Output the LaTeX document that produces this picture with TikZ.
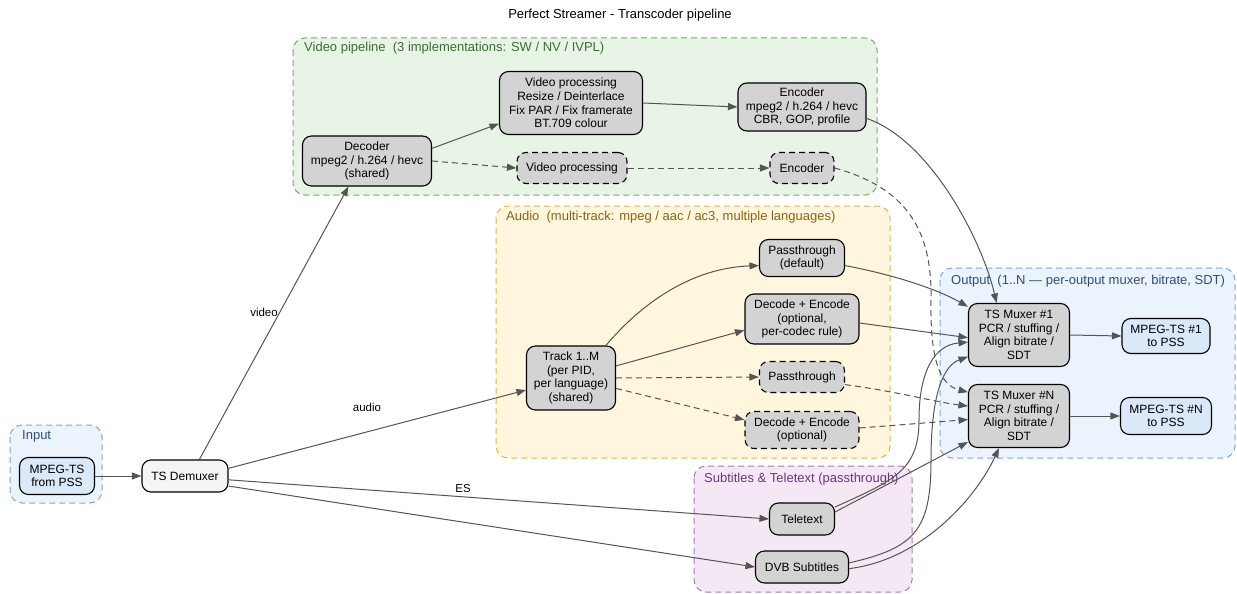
\documentclass[tikz,border=0pt]{standalone}
\usepackage{fontspec}
\setmainfont{Liberation Sans}
\usetikzlibrary{arrows.meta}

\definecolor{edgegrey}{HTML}{555555}
\definecolor{nodegrey}{HTML}{D3D3D3}
\definecolor{demuxfill}{HTML}{F5F5F5}
\definecolor{tsfill}{HTML}{DAE8F8}
\definecolor{bluefill}{HTML}{EBF3FC}
\definecolor{blueline}{HTML}{7EA8D8}
\definecolor{bluetext}{HTML}{2E4E7E}
\definecolor{greenfill}{HTML}{E8F4E6}
\definecolor{greenline}{HTML}{72B068}
\definecolor{greentext}{HTML}{3D6B35}
\definecolor{yellowfill}{HTML}{FFF6DE}
\definecolor{yellowline}{HTML}{E0B848}
\definecolor{yellowtext}{HTML}{8A6410}
\definecolor{purplefill}{HTML}{F3E8F4}
\definecolor{purpleline}{HTML}{A87DB8}
\definecolor{purpletext}{HTML}{6C3483}

\begin{document}
\begin{tikzpicture}[x=1pt, y=-1pt, >={Triangle[length=9.5pt,width=7pt]},
    box/.style={draw=black, line width=1.1pt, rounded corners=9pt, fill=nodegrey,
      align=center, inner sep=2pt, font=\fontsize{12}{13.7}\selectfont},
    optbox/.style={box, dash pattern=on 6pt off 4pt},
    link/.style={->, draw=edgegrey, line width=1pt},
    optlink/.style={link, dash pattern=on 6pt off 4pt},
    cluster/.style={line width=1pt, rounded corners=12pt, dash pattern=on 6pt off 4pt},
    clabel/.style={anchor=west, inner sep=0pt, font=\fontsize{13}{15}\selectfont},
    elabel/.style={inner sep=0pt, font=\fontsize{11.5}{13}\selectfont}]
    \useasboundingbox (0,0) rectangle (1237,594);

    \node[elabel, font=\fontsize{13}{15}\selectfont] (title) at (620,15) {Perfect Streamer - Transcoder pipeline};

    \draw[cluster, fill=bluefill, draw=blueline] (10,425) rectangle (102,503);
    \draw[cluster, fill=greenfill, draw=greenline] (293,38) rectangle (877,195);
    \draw[cluster, fill=yellowfill, draw=yellowline] (496,206) rectangle (890,458);
    \draw[cluster, fill=bluefill, draw=blueline] (940,268) rectangle (1235,458);
    \draw[cluster, fill=purplefill, draw=purpleline] (694,466) rectangle (912,592);

    \node[clabel, text=bluetext] (lin) at (22,436) {Input};
    \node[clabel, text=greentext] (lvid) at (304,48) {Video pipeline\ \ (3 implementations: SW / NV / IVPL)};
    \node[clabel, text=yellowtext] (laud) at (506,217) {Audio\ \ (multi-track: mpeg / aac / ac3, multiple languages)};
    \node[clabel, text=bluetext] (lout) at (951,281) {Output\ \ (1..N — per-output muxer, bitrate, SDT)};
    \node[clabel, text=purpletext] (lsub) at (704,479) {Subtitles \& Teletext (passthrough)};

    \node[box, fill=tsfill, minimum width=75, minimum height=37] (src) at (57,476) {MPEG-TS\\from PSS};
    \node[box, fill=demuxfill, minimum width=86, minimum height=32] (demux) at (185,476) {TS Demuxer};

    \node[box, minimum width=129, minimum height=50] (dec) at (367,161) {Decoder\\mpeg2 / h.264 / hevc\\(shared)};
    \node[box, minimum width=143, minimum height=63] (vproc) at (571,103) {Video processing\\Resize / Deinterlace\\Fix PAR / Fix framerate\\BT.709 colour};
    \node[box, minimum width=128, minimum height=48] (venc) at (802,107) {Encoder\\mpeg2 / h.264 / hevc\\CBR, GOP, profile};
    \node[optbox, minimum width=110, minimum height=31] (vproc2) at (572,168) {Video processing};
    \node[optbox, minimum width=64, minimum height=31] (venc2) at (802,168) {Encoder};

    \node[box, minimum width=89, minimum height=64] (track) at (571,378) {Track 1..M\\(per PID,\\per language)\\(shared)};
    \node[box, minimum width=85, minimum height=37] (apass) at (802,258) {Passthrough\\(default)};
    \node[box, minimum width=114, minimum height=50] (aenc) at (802,319) {Decode + Encode\\(optional,\\per-codec rule)};
    \node[optbox, minimum width=85, minimum height=31] (apass2) at (802,377) {Passthrough};
    \node[optbox, minimum width=114, minimum height=37] (aenc2) at (802,430) {Decode + Encode\\(optional)};

    \node[box, minimum width=65, minimum height=32] (ttx) at (802,519) {Teletext};
    \node[box, minimum width=93, minimum height=32] (dvb) at (802,567) {DVB Subtitles};

    \node[box, minimum width=101, minimum height=63] (mux1) at (1019,335) {TS Muxer \#1\\PCR / stuffing /\\Align bitrate /\\SDT};
    \node[box, minimum width=101, minimum height=63] (muxN) at (1019,416) {TS Muxer \#N\\PCR / stuffing /\\Align bitrate /\\SDT};
    \node[box, fill=tsfill, minimum width=88, minimum height=35] (out1) at (1166,336) {MPEG-TS \#1\\to PSS};
    \node[box, fill=tsfill, minimum width=91, minimum height=37] (outN) at (1166,416) {MPEG-TS \#N\\to PSS};

    \node[elabel] (lvideo) at (264,312) {video};
    \node[elabel] (laudio) at (367,407) {audio};
    \node[elabel] (les) at (463,489) {ES};

    \draw[link] (src) -- (demux);
    \draw[link] (demux.49) -- (dec.234);
    \draw[link] (demux.10) -- (track.195);
    \draw[link] (demux.-5) -- (ttx.west);
    \draw[link] (demux.-13) -- (dvb.west);

    \draw[link] (dec.11) -- (vproc.196);
    \draw[link] (vproc.east) -- (venc.west);
    \draw[optlink] (dec.east) -- (vproc2.west);
    \draw[optlink] (vproc2.east) -- (venc2.west);
    \draw[link] (venc.-10) .. controls (930,140) and (982,240) .. (mux1.125);
    \draw[optlink] (venc2.east) .. controls (915,190) and (932,240) .. (931,300)
        .. controls (930,360) and (940,385) .. (muxN.155);

    \draw[link] (track.43) .. controls (640,305) and (690,268) .. (apass.190);
    \draw[link] (track.15) -- (aenc.191);
    \draw[optlink] (track.east) -- (apass2.west);
    \draw[optlink] (track.-13) -- (aenc2.170);

    \draw[link] (apass.-10) .. controls (890,274) and (935,288) .. (mux1.151);
    \draw[link] (aenc.-4) -- (mux1.183);
    \draw[optlink] (apass2.-10) .. controls (900,392) and (935,402) .. (muxN.169);
    \draw[optlink] (aenc2.2) -- (muxN.184);

    \draw[link] (ttx.20) .. controls (895,480) and (919,470) .. (919,420)
        .. controls (919,370) and (935,345) .. (mux1.188);
    \draw[link] (ttx.12) -- (muxN.207);
    \draw[link] (dvb.5) .. controls (915,548) and (931,530) .. (931,460)
        .. controls (931,390) and (945,365) .. (mux1.203);
    \draw[link] (dvb.-2) .. controls (920,560) and (975,500) .. (muxN.238);

    \draw[link] (mux1.east) -- (out1.west);
    \draw[link] (muxN.east) -- (outN.west);
\end{tikzpicture}
\end{document}
